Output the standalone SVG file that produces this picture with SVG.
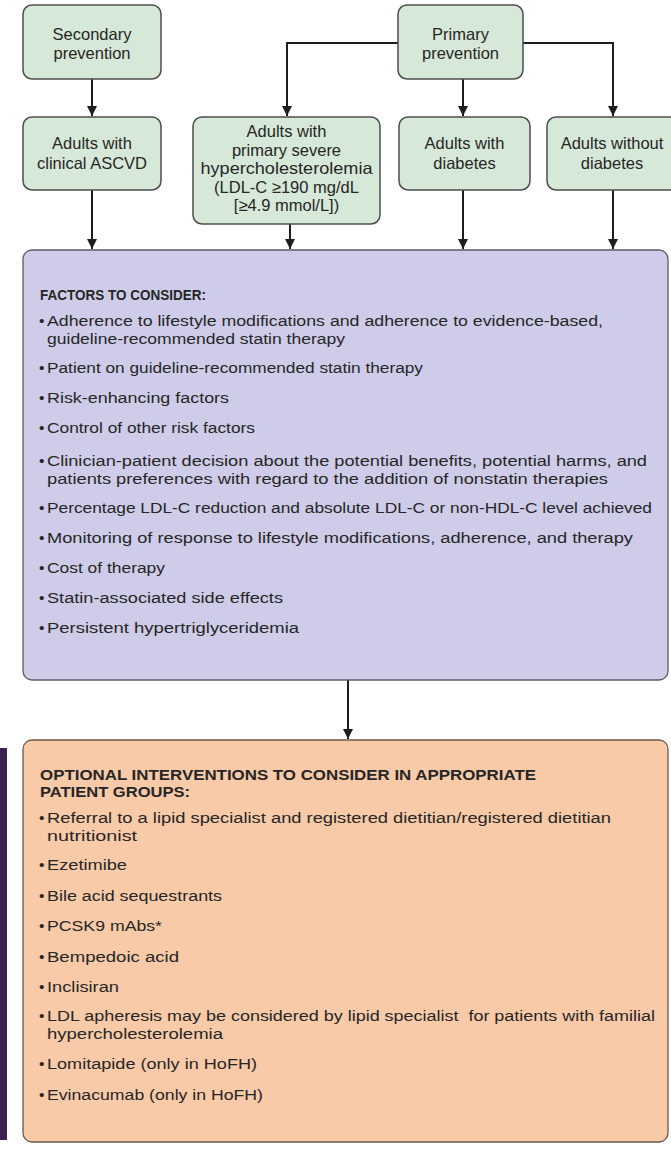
<svg xmlns="http://www.w3.org/2000/svg" width="671" height="1150" viewBox="0 0 671 1150">
<style>
text{font-family:"Liberation Sans",Arial,sans-serif;font-size:15.5px;fill:#262626}
.n{font-size:16.5px;text-anchor:middle}
.h{font-weight:bold;font-size:15px}
.node{fill:#d6e8d7;stroke:#4d4d4d;stroke-width:1.5}
.conn{fill:none;stroke:#1e1e1e;stroke-width:2}
</style>
<defs>
<marker id="ah" viewBox="0 0 10 10" refX="10" refY="5" markerWidth="5" markerHeight="5" orient="auto" markerUnits="strokeWidth">
<path d="M0,0 L10,5 L0,10 z" fill="#1e1e1e"/>
</marker>
</defs>
<rect width="671" height="1150" fill="#ffffff"/>
<rect id="sidebar" x="0" y="748" width="7" height="392" fill="#3b2150"/>

<g id="connectors">
<path class="conn" d="M92,79 V116" marker-end="url(#ah)"/>
<path class="conn" d="M92,190 V249" marker-end="url(#ah)"/>
<path class="conn" d="M398,43 H287 V116" marker-end="url(#ah)"/>
<path class="conn" d="M523,43 H613 V116" marker-end="url(#ah)"/>
<path class="conn" d="M463,79 V116" marker-end="url(#ah)"/>
<path class="conn" d="M290,224 V249" marker-end="url(#ah)"/>
<path class="conn" d="M463,190 V249" marker-end="url(#ah)"/>
<path class="conn" d="M613,190 V249" marker-end="url(#ah)"/>
<path class="conn" d="M348,680 V739" marker-end="url(#ah)"/>
</g>

<g id="secondary">
<rect class="node" x="23" y="5" width="138" height="74" rx="9"/>
<text class="n" x="92" y="40">Secondary</text>
<text class="n" x="92" y="59">prevention</text>
</g>
<g id="primary">
<rect class="node" x="398" y="5" width="125" height="74" rx="9"/>
<text class="n" x="460.5" y="40">Primary</text>
<text class="n" x="460.5" y="59">prevention</text>
</g>
<g id="ascvd">
<rect class="node" x="23" y="117" width="138" height="73" rx="9"/>
<text class="n" x="92" y="149">Adults with</text>
<text class="n" x="92" y="169">clinical ASCVD</text>
</g>
<g id="severe">
<rect class="node" x="193" y="117" width="187" height="107" rx="9"/>
<text class="n" x="286.5" y="137">Adults with</text>
<text class="n" x="286.5" y="155.5">primary severe</text>
<text class="n" x="286.5" y="174" textLength="172" lengthAdjust="spacingAndGlyphs">hypercholesterolemia</text>
<text class="n" x="286.5" y="192.5">(LDL-C ≥190 mg/dL</text>
<text class="n" x="286.5" y="211">[≥4.9 mmol/L])</text>
</g>
<g id="diabetes">
<rect class="node" x="399" y="117" width="131" height="73" rx="9"/>
<text class="n" x="464.5" y="149">Adults with</text>
<text class="n" x="464.5" y="169">diabetes</text>
</g>
<g id="nodiabetes">
<rect class="node" x="547" y="117" width="132" height="73" rx="9"/>
<text class="n" x="612" y="149">Adults without</text>
<text class="n" x="612" y="169">diabetes</text>
</g>

<g id="factors">
<rect x="23" y="250" width="645" height="430" rx="9" fill="#cecce8" stroke="#5a5a66" stroke-width="1.3"/>
<text class="h" x="40" y="300" textLength="166" lengthAdjust="spacingAndGlyphs">FACTORS TO CONSIDER:</text>
<text x="39" y="326">•</text><text x="47" y="326" textLength="556" lengthAdjust="spacingAndGlyphs">Adherence to lifestyle modifications and adherence to evidence-based,</text>
<text x="47" y="343.5" textLength="298" lengthAdjust="spacingAndGlyphs">guideline-recommended statin therapy</text>
<text x="39" y="373">•</text><text x="47" y="373" textLength="376" lengthAdjust="spacingAndGlyphs">Patient on guideline-recommended statin therapy</text>
<text x="39" y="403">•</text><text x="47" y="403" textLength="182" lengthAdjust="spacingAndGlyphs">Risk-enhancing factors</text>
<text x="39" y="433">•</text><text x="47" y="433" textLength="208" lengthAdjust="spacingAndGlyphs">Control of other risk factors</text>
<text x="39" y="466">•</text><text x="47" y="466" textLength="600" lengthAdjust="spacingAndGlyphs">Clinician-patient decision about the potential benefits, potential harms, and</text>
<text x="47" y="483.5" textLength="561" lengthAdjust="spacingAndGlyphs">patients preferences with regard to the addition of nonstatin therapies</text>
<text x="39" y="513">•</text><text x="47" y="513" textLength="605" lengthAdjust="spacingAndGlyphs">Percentage LDL-C reduction and absolute LDL-C or non-HDL-C level achieved</text>
<text x="39" y="543">•</text><text x="47" y="543" textLength="586" lengthAdjust="spacingAndGlyphs">Monitoring of response to lifestyle modifications, adherence, and therapy</text>
<text x="39" y="573">•</text><text x="47" y="573" textLength="118" lengthAdjust="spacingAndGlyphs">Cost of therapy</text>
<text x="39" y="603">•</text><text x="47" y="603" textLength="236" lengthAdjust="spacingAndGlyphs">Statin-associated side effects</text>
<text x="39" y="633">•</text><text x="47" y="633" textLength="252" lengthAdjust="spacingAndGlyphs">Persistent hypertriglyceridemia</text>
</g>

<g id="interventions">
<rect x="23" y="740" width="645" height="402" rx="9" fill="#f8caa8" stroke="#6a5a50" stroke-width="1.3"/>
<text class="h" x="40" y="780" textLength="496" lengthAdjust="spacingAndGlyphs">OPTIONAL INTERVENTIONS TO CONSIDER IN APPROPRIATE</text>
<text class="h" x="40" y="797" textLength="150" lengthAdjust="spacingAndGlyphs">PATIENT GROUPS:</text>
<text x="39" y="823">•</text><text x="47" y="823" textLength="564" lengthAdjust="spacingAndGlyphs">Referral to a lipid specialist and registered dietitian/registered dietitian</text>
<text x="47" y="840.5" textLength="90" lengthAdjust="spacingAndGlyphs">nutritionist</text>
<text x="39" y="870">•</text><text x="47" y="870" textLength="80" lengthAdjust="spacingAndGlyphs">Ezetimibe</text>
<text x="39" y="900.5">•</text><text x="47" y="900.5" textLength="175" lengthAdjust="spacingAndGlyphs">Bile acid sequestrants</text>
<text x="39" y="931">•</text><text x="47" y="931" textLength="115" lengthAdjust="spacingAndGlyphs">PCSK9 mAbs*</text>
<text x="39" y="961.5">•</text><text x="47" y="961.5" textLength="132" lengthAdjust="spacingAndGlyphs">Bempedoic acid</text>
<text x="39" y="992">•</text><text x="47" y="992" textLength="72" lengthAdjust="spacingAndGlyphs">Inclisiran</text>
<text x="39" y="1021">•</text><text x="47" y="1021" xml:space="preserve" textLength="608" lengthAdjust="spacingAndGlyphs">LDL apheresis may be considered by lipid specialist  for patients with familial</text>
<text x="47" y="1038.5" textLength="176" lengthAdjust="spacingAndGlyphs">hypercholesterolemia</text>
<text x="39" y="1069">•</text><text x="47" y="1069" textLength="210" lengthAdjust="spacingAndGlyphs">Lomitapide (only in HoFH)</text>
<text x="39" y="1099.5">•</text><text x="47" y="1099.5" textLength="216" lengthAdjust="spacingAndGlyphs">Evinacumab (only in HoFH)</text>
</g>
</svg>
